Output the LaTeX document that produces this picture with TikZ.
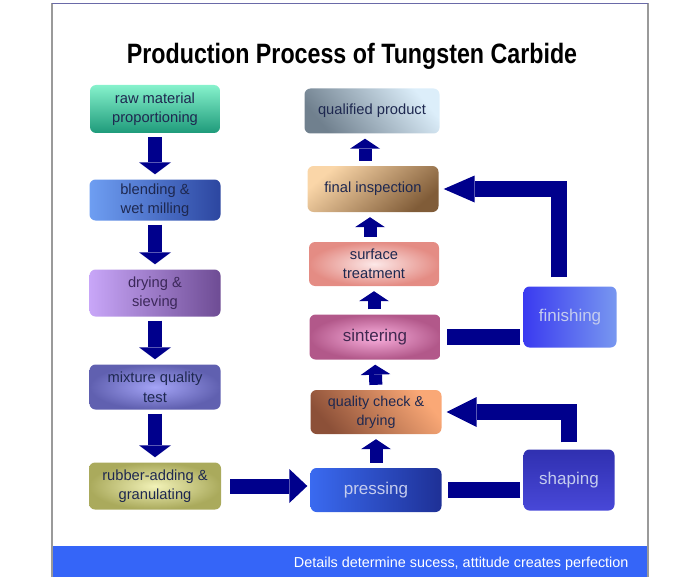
\documentclass[tikz,border=0pt]{standalone}
\usepackage{fontspec}
\setmainfont{Liberation Sans}
\newfontfamily\narrowfont[FakeStretch=0.83]{Liberation Sans}
\usetikzlibrary{arrows.meta}

\definecolor{arrownavy}{HTML}{00008C}
\definecolor{boxtext}{HTML}{1E2850}
\definecolor{lighttext}{HTML}{C4CCEE}
\definecolor{footerblue}{HTML}{3565F8}
\definecolor{framegray}{HTML}{9A9A9A}
\definecolor{frametop}{HTML}{6A6AA8}

\begin{document}
\begin{tikzpicture}[
    x=1pt, y=-1pt,
    box/.style = {rectangle, rounded corners=6pt, minimum width=131pt, minimum height=46pt, inner sep=0pt, align=center, text=boxtext, font=\fontsize{14.7}{19.5}\selectfont},
    bigbox/.style = {box, font=\fontsize{17}{20}\selectfont},
    downarrow/.style = {draw=arrownavy, line width=14pt, shorten <=4pt, shorten >=5pt, -{Triangle[width=32pt, length=12pt, line width=0pt]}},
    uparrow/.style = {draw=arrownavy, line width=13pt, shorten <=5pt, shorten >=5pt, -{Triangle[width=30pt, length=10pt, line width=0pt]}},
    rightarrow/.style = {draw=arrownavy, line width=15pt, shorten <=9pt, shorten >=3pt, -{Triangle[width=34pt, length=18pt, line width=0pt]}},
    bar/.style = {draw=arrownavy, line width=16pt, shorten <=3pt, shorten >=6pt},
    elbow/.style = {draw=arrownavy, line width=16pt, line join=miter, shorten >=5pt, -{Triangle[width=30pt, length=30pt, line width=0pt]}}
]
    \useasboundingbox (0,0) rectangle (700,580);

    % frame and footer
    \fill[footerblue] (52,546) rectangle (648,577);
    \draw[framegray, line width=1.5pt] (52,577) -- (52,3.5) (648,3.5) -- (648,577);
    \draw[frametop, line width=1.5pt] (52,3.5) -- (648,3.5);
    \node[anchor=base east, text=white, font=\fontsize{14.4}{16}\selectfont] (motto) at (632,567) {Details determine sucess, attitude creates perfection};

    % title
    \node[anchor=base, font=\narrowfont\bfseries\fontsize{28}{30}\selectfont] (title) at (352,64) {Production Process of Tungsten Carbide};

    % left column
    \node [box, minimum width=130pt, minimum height=48pt, top color={rgb,255:red,134;green,242;blue,204}, bottom color={rgb,255:red,30;green,154;blue,122}] (raw) at (155,109) {raw material\\proportioning};
    \node [box, minimum height=41pt, left color={rgb,255:red,110;green,158;blue,242}, right color={rgb,255:red,44;green,70;blue,160}] (blend) at (155,200) {blending \&\\wet milling};
    \node [box, minimum height=47pt, left color={rgb,255:red,200;green,166;blue,248}, middle color={rgb,255:red,190;green,152;blue,240}, right color={rgb,255:red,110;green,76;blue,148}, text={rgb,255:red,60;green,40;blue,90}] (dry) at (155,293) {drying \&\\sieving};
    \node [box, minimum height=45pt, inner color={rgb,255:red,164;green,164;blue,246}, outer color={rgb,255:red,96;green,96;blue,176}] (mix) at (155,387) {mixture quality\\test};
    \node [box, minimum width=132pt, minimum height=47pt, inner color={rgb,255:red,242;green,242;blue,184}, outer color={rgb,255:red,170;green,170;blue,92}] (rubber) at (155,486) {rubber-adding \&\\granulating};

    % right column
    \node [box, minimum width=135pt, minimum height=45pt, top color={rgb,255:red,220;green,238;blue,250}, middle color={rgb,255:red,206;green,230;blue,244}, bottom color={rgb,255:red,112;green,128;blue,142}, shading angle=-50] (qp) at (372,111) {qualified product};
    \node [box, minimum height=46pt, top color={rgb,255:red,250;green,214;blue,168}, middle color={rgb,255:red,236;green,190;blue,140}, bottom color={rgb,255:red,128;green,92;blue,56}, shading angle=40] (finsp) at (373,189) {final inspection};
    \node [box, minimum width=130pt, minimum height=44pt, inner color={rgb,255:red,252;green,232;blue,232}, outer color={rgb,255:red,228;green,140;blue,132}] (surf) at (374,264) {surface\\treatment};
    \node [bigbox, minimum height=45pt, inner color={rgb,255:red,250;green,176;blue,222}, outer color={rgb,255:red,178;green,88;blue,138}, text={rgb,255:red,64;green,40;blue,80}] (sint) at (375,337) {sintering};
    \node [box, minimum height=44pt, top color={rgb,255:red,250;green,168;blue,118}, middle color={rgb,255:red,240;green,152;blue,104}, bottom color={rgb,255:red,140;green,80;blue,56}, shading angle=-50, font=\fontsize{14.3}{19}\selectfont] (qc) at (376,412) {quality check \&\\drying};
    \node [bigbox, minimum height=44pt, left color={rgb,255:red,58;green,106;blue,240}, right color={rgb,255:red,30;green,48;blue,150}, text=lighttext] (press) at (376,490) {pressing};

    % side boxes
    \node [bigbox, minimum width=93pt, minimum height=61pt, left color={rgb,255:red,58;green,58;blue,240}, right color={rgb,255:red,120;green,152;blue,240}, text=lighttext] (finish) at (570,317) {finishing};
    \node [bigbox, minimum width=91pt, minimum height=61pt, top color={rgb,255:red,48;green,48;blue,176}, middle color={rgb,255:red,106;green,106;blue,240}, bottom color={rgb,255:red,72;green,72;blue,216}, text=lighttext] (shape) at (569,480) {shaping};

    % arrows
    \path [downarrow] (raw.south -| blend) -- (blend.north);
    \path [downarrow] (blend.south) -- (dry.north);
    \path [downarrow] (dry.south) -- (mix.north);
    \path [downarrow] (mix.south) -- (rubber.north);
    \path [rightarrow] (rubber.east) -- (rubber -| press.west);

    \path [uparrow] (press.north) -- (qc.south);
    \path [uparrow] (qc.north) -- (sint.south);
    \path [uparrow] (sint.north -| surf) -- (surf.south);
    \path [uparrow] ([xshift=-4pt]surf.north) -- ([xshift=-4pt]surf.north |- finsp.south);
    \path [uparrow] ([xshift=-8pt]finsp.north) -- ([xshift=-8pt]finsp.north |- qp.south);

    \path [bar] (shape.west |- press) -- (press.east);
    \path [bar] (finish.west |- sint) -- (sint.east);
    \path [elbow] ([yshift=7pt]shape.north) |- (qc.east);
    \path [elbow, -{Triangle[width=27pt, length=31pt, line width=0pt]}] ([xshift=-11pt, yshift=9pt]finish.north) |- (finsp.east);

\end{tikzpicture}
\end{document}
